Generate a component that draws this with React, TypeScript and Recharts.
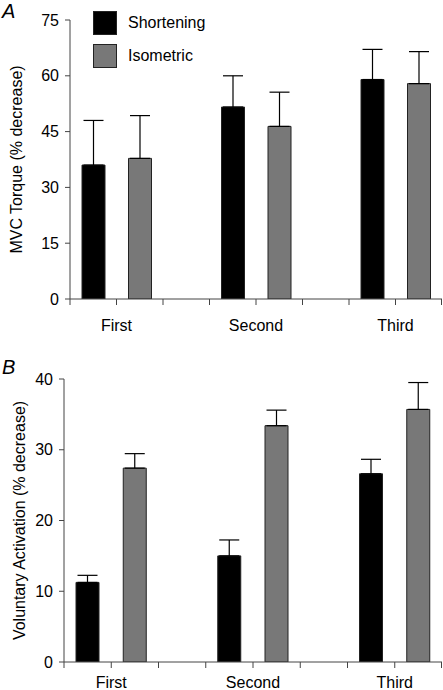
import React from "react";
import {
  BarChart,
  Bar,
  XAxis,
  YAxis,
  ErrorBar,
  Cell,
  Legend,
} from "recharts";

const categories = ["First", "Second", "Third"];
const series = ["Shortening", "Isometric"];
const colors = ["#000000", "#787878"];

const torqueShortening = [36, 51.6, 59];
const torqueShorteningErr = [12, 8.4, 8.1];
const torqueIsometric = [37.8, 46.4, 57.9];
const torqueIsometricErr = [11.5, 9.2, 8.6];

const vaShortening = [11.25, 15, 26.6];
const vaShorteningErr = [1, 2.25, 2.05];
const vaIsometric = [27.4, 33.4, 35.7];
const vaIsometricErr = [2.05, 2.2, 3.8];

const torqueTicks = [0, 15, 30, 45, 60, 75];
const vaTicks = [0, 10, 20, 30, 40];

const font = "'Liberation Sans', Arial, sans-serif";
const axisColor = "#444";

// groupLabel sits on the left edge of the isometric band (the middle of the group)
type Row = { slot: string; value: number | null; err: number[]; fill: string; groupLabel: string };

// one band per bar plus an empty band between groups
function buildRows(a: number[], aErr: number[], b: number[], bErr: number[]): Row[] {
  const rows: Row[] = [];
  categories.forEach((c, i) => {
    rows.push({ slot: c + "-s", value: a[i], err: [0, aErr[i]], fill: colors[0], groupLabel: "" });
    rows.push({ slot: c + "-i", value: b[i], err: [0, bErr[i]], fill: colors[1], groupLabel: c });
    if (i < categories.length - 1)
      rows.push({ slot: c + "-gap", value: null, err: [0, 0], fill: "none", groupLabel: "" });
  });
  return rows;
}

const torqueRows = buildRows(torqueShortening, torqueShorteningErr, torqueIsometric, torqueIsometricErr);
const vaRows = buildRows(vaShortening, vaShorteningErr, vaIsometric, vaIsometricErr);

// tick marks on the band edges, group label under the middle edge
const makeSlotTick = (rows: Row[], dy: number, half: number) => (props: any) => {
  const { x, y, payload, index } = props;
  const off = payload && payload.offset ? payload.offset : half;
  const left = x - off;
  const last = index === rows.length - 1;
  const row = rows[index];
  return (
    <g>
      <line x1={left} x2={left} y1={y} y2={y + 6} stroke={axisColor} strokeWidth={1} />
      {last && <line x1={x + off - 0.5} x2={x + off - 0.5} y1={y} y2={y + 6} stroke={axisColor} strokeWidth={1} />}
      {row && row.groupLabel && (
        <text x={left} y={y + dy} textAnchor="middle" dominantBaseline="central" fontSize={16} fontFamily={font} fill="#000">
          {row.groupLabel}
        </text>
      )}
    </g>
  );
};

const makeYLabel = (text: string, x: number) => (props: any) => {
  const vb = props.viewBox;
  const cy = vb.y + vb.height / 2;
  return (
    <text x={x} y={cy} transform={`rotate(-90 ${x} ${cy})`} textAnchor="middle" dominantBaseline="central" fontSize={16} fontFamily={font} fill="#000">
      {text}
    </text>
  );
};

const renderLegend = () => (
  <div style={{ fontFamily: font, fontSize: 16 }}>
    {series.map((s, i) => (
      <div key={s} style={{ display: "flex", alignItems: "center", height: 33 }}>
        <div style={{ width: 22, height: 22, background: colors[i], border: "1px solid #222" }} />
        <span style={{ marginLeft: 11 }}>{s}</span>
      </div>
    ))}
  </div>
);

const Panel = ({
  rows,
  height,
  ticks,
  label,
  margin,
  xHeight,
  tickDy,
  labelX,
  legend,
}: {
  rows: Row[];
  height: number;
  ticks: number[];
  label: string;
  margin: { top: number; right: number; left: number; bottom: number };
  xHeight: number;
  tickDy: number;
  labelX: number;
  legend?: boolean;
}) => {
  const half = (443 - margin.left - margin.right - 40) / rows.length / 2;
  return (
    <BarChart width={443} height={height} data={rows} margin={margin} barSize={23}>
      <XAxis
        dataKey="slot"
        interval={0}
        height={xHeight}
        stroke={axisColor}
        tickLine={false}
        tickSize={0}
        tickMargin={0}
        tick={makeSlotTick(rows, tickDy, half)}
      />
      <YAxis
        domain={[ticks[0], ticks[ticks.length - 1]]}
        allowDataOverflow
        ticks={ticks}
        interval={0}
        width={40}
        stroke={axisColor}
        tickSize={5}
        tickMargin={6}
        tick={{ fill: "#000", fontSize: 16, fontFamily: font }}
        label={{ content: makeYLabel(label, labelX) }}
      />
      {legend && (
        <Legend
          layout="vertical"
          align="center"
          verticalAlign="middle"
          content={renderLegend}
          wrapperStyle={{ top: 6, left: 93, width: 150 }}
        />
      )}
      <Bar dataKey="value" stroke="#222" strokeWidth={1} isAnimationActive={false} legendType="none">
        {rows.map((r) => (
          <Cell key={r.slot} fill={r.fill} />
        ))}
        <ErrorBar dataKey="err" width={10} stroke="#000" strokeWidth={1.2} />
      </Bar>
    </BarChart>
  );
};

export default function App() {
  return (
    <div style={{ position: "absolute", left: 0, top: 0, width: 443, height: 690, background: "#fff", fontFamily: font }}>
      <div style={{ position: "absolute", left: 2, top: 0, fontSize: 20, fontStyle: "italic", lineHeight: "22px" }}>A</div>
      <div style={{ position: "absolute", left: 2, top: 356, fontSize: 20, fontStyle: "italic", lineHeight: "22px" }}>B</div>
      <div style={{ position: "absolute", left: 0, top: 0 }}>
        <Panel
          rows={torqueRows}
          height={340}
          ticks={torqueTicks}
          label="MVC Torque (% decrease)"
          margin={{ top: 20, right: 1, left: 30, bottom: 11 }}
          xHeight={30}
          tickDy={26}
          labelX={16}
          legend
        />
      </div>
      <div style={{ position: "absolute", left: 0, top: 340 }}>
        <Panel
          rows={vaRows}
          height={350}
          ticks={vaTicks}
          label="Voluntary Activation (% decrease)"
          margin={{ top: 39, right: 1, left: 24, bottom: 0 }}
          xHeight={28}
          tickDy={20}
          labelX={19}
        />
      </div>
    </div>
  );
}
